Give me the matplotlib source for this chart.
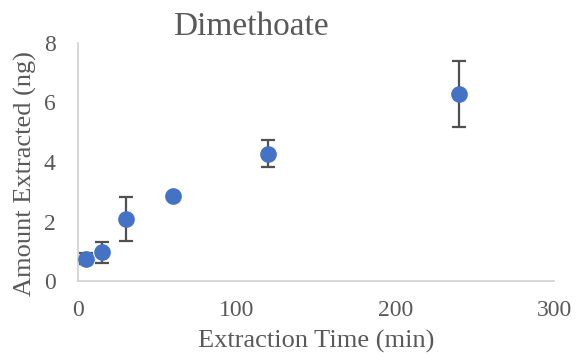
import matplotlib
matplotlib.use("Agg")
import matplotlib.pyplot as plt

# Extraction time (min) vs amount of dimethoate extracted (ng)
time_min = [5, 15, 30, 60, 120, 240]
amount_ng = [0.75, 0.97, 2.08, 2.85, 4.28, 6.27]
amount_err = [0.18, 0.35, 0.74, 0.0, 0.45, 1.11]

x_ticks = [0, 100, 200, 300]
y_ticks = [0, 2, 4, 6, 8]

text_grey = "#595959"
plt.rcParams["font.family"] = ["Liberation Serif", "DejaVu Serif"]

W, H = 583, 362
fig = plt.figure(figsize=(W / 100, H / 100), dpi=100)
ax = fig.add_axes([78 / W, 1 - 281 / H, (554 - 78) / W, (281 - 43) / H])

ax.errorbar(time_min, amount_ng, yerr=amount_err, fmt="o", color="#4472C4",
            markersize=11, ecolor="#505050", elinewidth=1.6, capsize=5,
            capthick=1.6, zorder=3)

ax.set_xlim(0, 300)
ax.set_ylim(0, 8)
ax.set_xticks(x_ticks)
ax.set_yticks(y_ticks)
ax.tick_params(length=0, labelsize=17, colors=text_grey)
ax.tick_params(axis="x", pad=14)
ax.tick_params(axis="y", pad=16)

for side in ("top", "right"):
    ax.spines[side].set_visible(False)
for side in ("left", "bottom"):
    ax.spines[side].set_color("#d0d0d0")
    ax.spines[side].set_linewidth(1.2)

fig.text(316 / W, 1 - 341 / H, "Extraction Time (min)", fontsize=19,
         color=text_grey, ha="center", va="center")
fig.text(25 / W, 1 - 174 / H, "Amount Extracted (ng)", fontsize=19,
         color=text_grey, ha="center", va="center", rotation=90)
fig.text(251 / W, 1 - 35 / H, "Dimethoate", fontsize=24,
         color=text_grey, ha="center", va="baseline")

fig.savefig("out.png", dpi=100)
